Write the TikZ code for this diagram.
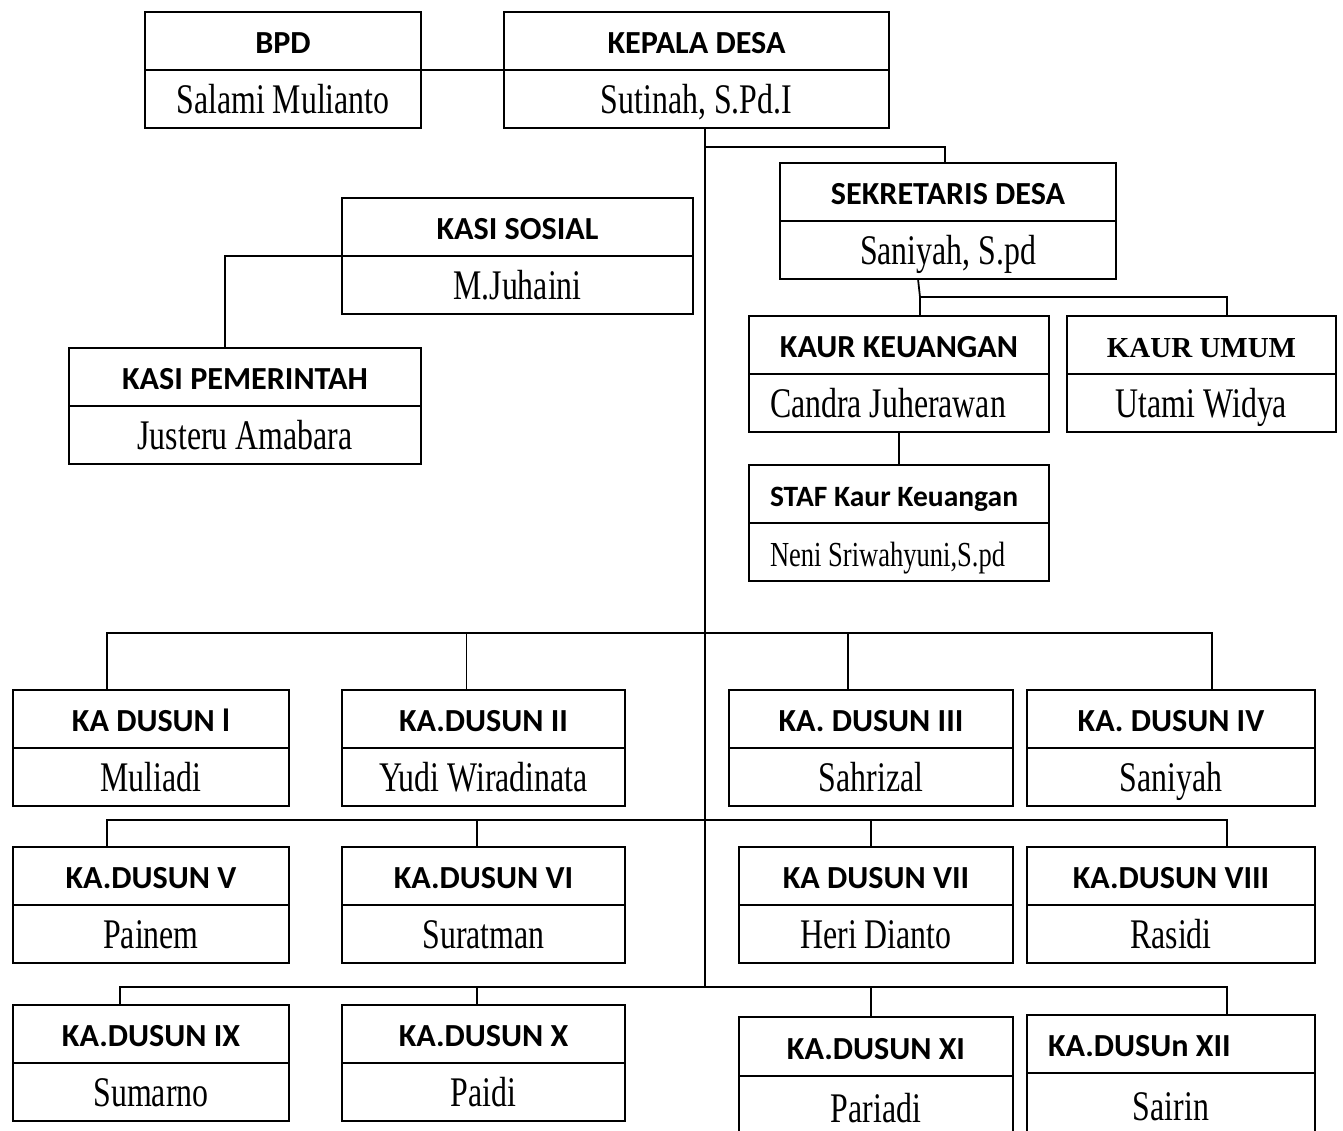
\documentclass[tikz,border=0pt]{standalone}
\usepackage{fontspec}
\setmainfont{Liberation Serif}
\newfontfamily\judulfont{Carlito}
\newfontfamily\namafont[FakeStretch=0.755]{Liberation Serif}
\usetikzlibrary{positioning}

\begin{document}
\begin{tikzpicture}[x=0.02cm, y=-0.02cm,
    jabatan/.style={draw, line width=1.4pt, outer sep=0pt, inner sep=0pt, minimum height=1.16cm,
        font=\judulfont\bfseries\fontsize{18.3}{20}\selectfont, text height=15pt, text depth=0.5pt},
    nama/.style={draw, line width=1.4pt, outer sep=0pt, inner sep=0pt, minimum height=1.16cm,
        font=\namafont\fontsize{24}{26}\selectfont, text height=17pt, text depth=1pt},
    garis/.style={line width=1pt}]
        \useasboundingbox (0,0) rectangle (1343,1130);

        % Pimpinan desa
        \node[jabatan, minimum width=5.52cm] (bpd) at (283,41) {BPD};
        \node[nama, minimum width=5.52cm, below=0pt of bpd] (bpd-n) {Salami Mulianto};
        \node[jabatan, minimum width=7.7cm] (kades) at (696.5,41) {KEPALA DESA};
        \node[nama, minimum width=7.7cm, below=0pt of kades] (kades-n) {Sutinah, S.Pd.I};

        % Sekretariat dan kasi
        \node[jabatan, minimum width=6.72cm] (sekdes) at (948,192) {SEKRETARIS DESA};
        \node[nama, minimum width=6.72cm, below=0pt of sekdes] (sekdes-n) {Saniyah, S.pd};
        \node[jabatan, minimum width=7.02cm] (kasisos) at (517.5,227) {KASI SOSIAL};
        \node[nama, minimum width=7.02cm, below=0pt of kasisos] (kasisos-n) {M.Juhaini};
        \node[jabatan, minimum width=7.04cm] (kasipem) at (245,377) {KASI PEMERINTAH};
        \node[nama, minimum width=7.04cm, below=0pt of kasipem] (kasipem-n) {Justeru Amabara};

        % Kaur
        \node[jabatan, minimum width=6cm] (kaurkeu) at (899,345) {KAUR KEUANGAN};
        \node[nama, minimum width=6cm, below=0pt of kaurkeu] (kaurkeu-n) {\makebox[5.16cm][l]{Candra Juherawan}};
        \node[jabatan, minimum width=5.38cm, font=\bfseries\fontsize{16.5}{18}\selectfont] (kaurum) at (1201.5,345) {KAUR UMUM};
        \node[nama, minimum width=5.38cm, below=0pt of kaurum] (kaurum-n) {Utami Widya};
        \node[jabatan, minimum width=6cm, font=\judulfont\bfseries\fontsize{16.8}{18}\selectfont] (staf) at (899,494) {\makebox[5.16cm][l]{STAF Kaur Keuangan}};
        \node[nama, minimum width=6cm, font=\namafont\fontsize{20}{22}\selectfont, below=0pt of staf] (staf-n) {\makebox[5.16cm][l]{Neni Sriwahyuni,S.pd}};

        % Kepala dusun
        \node[jabatan, minimum width=5.52cm] (dusun1) at (151,719) {KA DUSUN l};
        \node[nama, minimum width=5.52cm, below=0pt of dusun1] (dusun1-n) {Muliadi};
        \node[jabatan, minimum width=5.66cm] (dusun2) at (483.5,719) {KA.DUSUN II};
        \node[nama, minimum width=5.66cm, below=0pt of dusun2] (dusun2-n) {Yudi Wiradinata};
        \node[jabatan, minimum width=5.68cm] (dusun3) at (871,719) {KA. DUSUN III};
        \node[nama, minimum width=5.68cm, below=0pt of dusun3] (dusun3-n) {Sahrizal};
        \node[jabatan, minimum width=5.76cm] (dusun4) at (1171,719) {KA. DUSUN IV};
        \node[nama, minimum width=5.76cm, below=0pt of dusun4] (dusun4-n) {Saniyah};

        \node[jabatan, minimum width=5.52cm] (dusun5) at (151,876) {KA.DUSUN V};
        \node[nama, minimum width=5.52cm, below=0pt of dusun5] (dusun5-n) {Painem};
        \node[jabatan, minimum width=5.66cm] (dusun6) at (483.5,876) {KA.DUSUN VI};
        \node[nama, minimum width=5.66cm, below=0pt of dusun6] (dusun6-n) {Suratman};
        \node[jabatan, minimum width=5.48cm] (dusun7) at (876,876) {KA DUSUN VII};
        \node[nama, minimum width=5.48cm, below=0pt of dusun7] (dusun7-n) {Heri Dianto};
        \node[jabatan, minimum width=5.76cm] (dusun8) at (1171,876) {KA.DUSUN VIII};
        \node[nama, minimum width=5.76cm, below=0pt of dusun8] (dusun8-n) {Rasidi};

        \node[jabatan, minimum width=5.52cm] (dusun9) at (151,1034) {KA.DUSUN IX};
        \node[nama, minimum width=5.52cm, below=0pt of dusun9] (dusun9-n) {Sumarno};
        \node[jabatan, minimum width=5.66cm] (dusun10) at (483.5,1034) {KA.DUSUN X};
        \node[nama, minimum width=5.66cm, below=0pt of dusun10] (dusun10-n) {Paidi};
        \node[jabatan, minimum width=5.48cm, minimum height=1.18cm] (dusun11) at (876,1046.5) {KA.DUSUN XI};
        \node[nama, minimum width=5.48cm, minimum height=1.3cm, below=0pt of dusun11] (dusun11-n) {Pariadi};
        \node[jabatan, minimum width=5.76cm] (dusun12) at (1171,1044) {\makebox[4.92cm][l]{KA.DUSUn XII}};
        \node[nama, minimum width=5.76cm, minimum height=1.34cm, below=0pt of dusun12] (dusun12-n) {Sairin};

        % Garis komando
        \coordinate (cabang) at (705,147);
        \coordinate (bagi) at (920,297);
        \coordinate (bus1) at (705,633);
        \coordinate (bus2) at (705,820);
        \coordinate (pusat) at (705,987);

        \draw[garis] (bpd.south east) -- (kades.south west);
        \draw[garis] (pusat |- kades-n.south) -- (pusat);
        \draw[garis] (cabang) -| ([xshift=-0.06cm]sekdes.north);
        \draw[garis] (kasisos.south west) -| ([xshift=-0.4cm]kasipem.north);
        \draw[garis] ([xshift=-0.6cm]sekdes-n.south) -- (bagi) -- (bagi |- kaurkeu.north);
        \draw[garis] (bagi) -| ([xshift=0.51cm]kaurum.north);
        \draw[garis] (kaurkeu-n.south) -- (staf.north);

        \draw[garis] ([xshift=-0.88cm]dusun1.north) |- (bus1) -| ([xshift=0.82cm]dusun4.north);
        \draw[garis] ([xshift=-0.34cm]dusun2.north) |- (bus1);
        \draw[garis] ([xshift=-0.46cm]dusun3.north) |- (bus1);

        \draw[garis] ([xshift=-0.88cm]dusun5.north) |- (bus2) -| ([xshift=1.12cm]dusun8.north);
        \draw[garis] ([xshift=-0.13cm]dusun6.north) |- (bus2);
        \draw[garis] ([xshift=-0.1cm]dusun7.north) |- (bus2);

        \draw[garis] ([xshift=-0.62cm]dusun9.north) |- (pusat) -| ([xshift=1.12cm]dusun12.north);
        \draw[garis] ([xshift=-0.13cm]dusun10.north) |- (pusat);
        \draw[garis] ([xshift=-0.1cm]dusun11.north) |- (pusat);
\end{tikzpicture}
\end{document}
